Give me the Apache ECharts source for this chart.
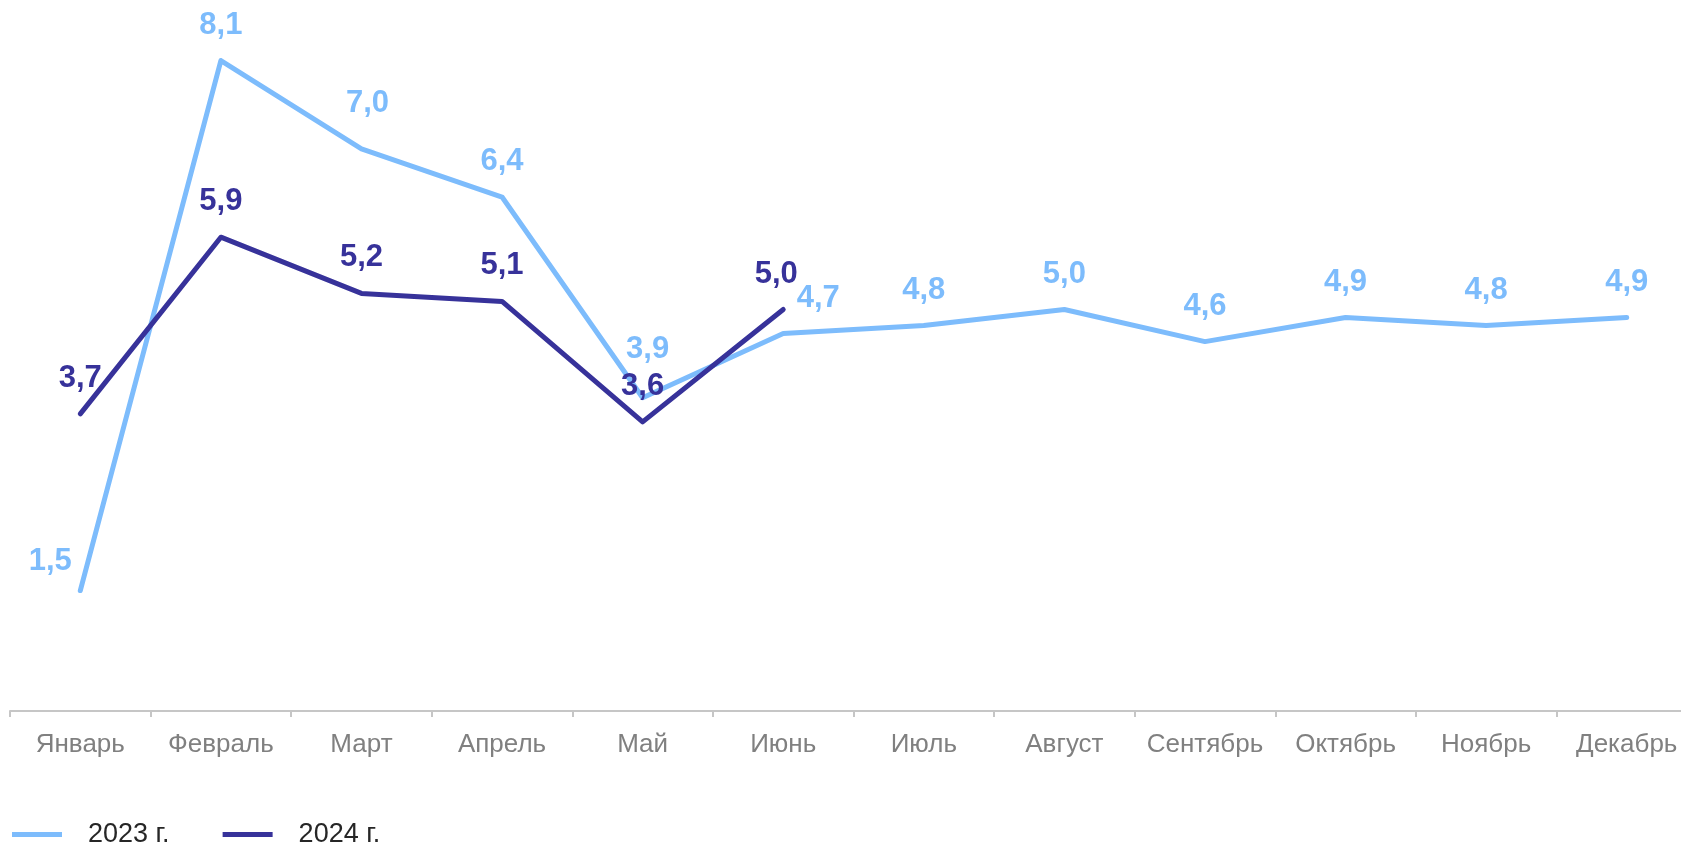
<!DOCTYPE html>
<html>
<head>
<meta charset="utf-8">
<script src="https://cdn.jsdelivr.net/npm/echarts@6/dist/echarts.min.js"></script>
<style>
html,body{margin:0;padding:0;background:#fff;}
#chart{width:1681px;height:844px;}
</style>
</head>
<body>
<div id="chart"></div>
<script>
const months = ['Январь','Февраль','Март','Апрель','Май','Июнь','Июль','Август','Сентябрь','Октябрь','Ноябрь','Декабрь'];
const series2023 = [1.5, 8.1, 7.0, 6.4, 3.9, 4.7, 4.8, 5.0, 4.6, 4.9, 4.8, 4.9];
const series2024 = [3.7, 5.9, 5.2, 5.1, 3.6, 5.0];
const seriesNames = ['2023 г.', '2024 г.'];

// label nudges (style only)
const offsets2023 = {0: [-30, 6], 2: [6, -10], 4: [5, -13], 5: [35, 0]};
const offsets2024 = {5: [-7, 0]};

const colorLight = '#7dbcfc';
const colorDark = '#37329a';
const FONT = "'Liberation Sans', Arial, sans-serif";

function toItems(vals, offs) {
  return vals.map((v, i) => offs[i] ? {value: v, label: {offset: offs[i]}} : v);
}
function fmt(p) { return Number(p.value).toFixed(1).replace('.', ','); }

const chart = echarts.init(document.getElementById('chart'));
chart.setOption({
  animation: false,
  backgroundColor: '#ffffff',
  grid: {left: 10, width: 1687, top: 28.4, bottom: 133, containLabel: false, outerBoundsMode: 'none'},
  legend: {
    left: 7, top: 816,
    itemWidth: 50, itemHeight: 5, itemGap: 53,
    icon: 'rect',
    textStyle: {fontFamily: FONT, fontSize: 27, color: '#262626', padding: [0, 0, 0, 21]},
    data: seriesNames
  },
  xAxis: {
    type: 'category',
    data: months,
    boundaryGap: true,
    axisLine: {lineStyle: {color: '#c6c6c6', width: 2}},
    axisTick: {show: true, length: 6, lineStyle: {color: '#c6c6c6', width: 2}},
    axisLabel: {interval: 0, margin: 21, fontFamily: FONT, fontSize: 26, color: '#808080'}
  },
  yAxis: {
    type: 'value', min: 0, max: 8.5,
    show: false, splitLine: {show: false}
  },
  series: [
    {
      name: seriesNames[0], type: 'line',
      data: toItems(series2023, offsets2023),
      symbol: 'circle', symbolSize: 0, showSymbol: true,
      lineStyle: {color: colorLight, width: 5, cap: 'round', join: 'round'},
      itemStyle: {color: colorLight},
      label: {show: true, position: 'top', distance: 20, formatter: fmt,
        fontFamily: FONT, fontSize: 31, fontWeight: 'bold', color: colorLight},
      z: 2
    },
    {
      name: seriesNames[1], type: 'line',
      data: toItems(series2024, offsets2024),
      symbol: 'circle', symbolSize: 0, showSymbol: true,
      lineStyle: {color: colorDark, width: 5, cap: 'round', join: 'round'},
      itemStyle: {color: colorDark},
      label: {show: true, position: 'top', distance: 20, formatter: fmt,
        fontFamily: FONT, fontSize: 31, fontWeight: 'bold', color: colorDark},
      z: 3
    }
  ]
});
</script>
</body>
</html>
